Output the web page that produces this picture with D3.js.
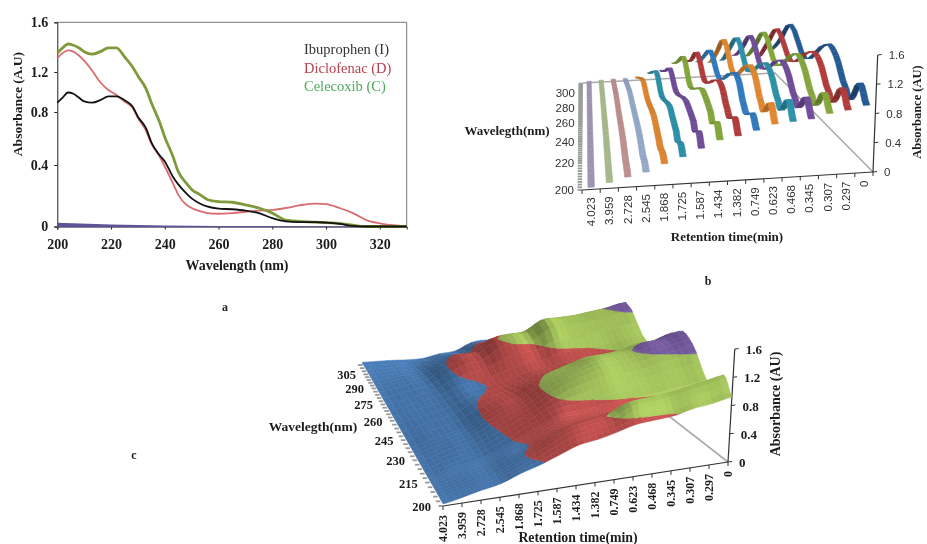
<!DOCTYPE html>
<html>
<head>
<meta charset="utf-8">
<script src="https://cdn.jsdelivr.net/npm/d3@7"></script>
<style>
  body { margin: 0; background: #fff; }
  svg { display: block; filter: blur(0.35px); }
  .serif { font-family: "Liberation Serif", serif; font-weight: bold; fill: #1c1c1c; }
  .sans { font-family: "Liberation Sans", sans-serif; fill: #333; }
</style>
</head>
<body>
<svg id="chart" width="927" height="544"></svg>
<script>
// panel a: spectra
var spectrumNm = [200, 202, 204, 206, 208, 210, 213, 216, 219, 222, 225, 228, 230, 233, 235, 238, 240, 243, 245, 248, 250, 253, 256, 260, 265, 270, 275, 280, 285, 290, 296, 300, 305, 310, 315, 320, 325, 330];
var ibuprophen = [0.97, 1.01, 1.05, 1.04, 1.01, 0.98, 0.97, 0.99, 1.02, 1.02, 0.99, 0.94, 0.86, 0.77, 0.66, 0.56, 0.51, 0.39, 0.33, 0.26, 0.22, 0.18, 0.155, 0.14, 0.135, 0.125, 0.105, 0.065, 0.04, 0.035, 0.035, 0.03, 0.02, 0.005, 0, 0, 0, 0];
var diclofenac = [1.32, 1.36, 1.38, 1.37, 1.34, 1.30, 1.22, 1.13, 1.07, 1.03, 0.98, 0.93, 0.85, 0.75, 0.65, 0.55, 0.47, 0.34, 0.25, 0.17, 0.145, 0.12, 0.105, 0.10, 0.105, 0.115, 0.125, 0.13, 0.145, 0.165, 0.18, 0.175, 0.145, 0.105, 0.05, 0.025, 0.01, 0];
var celecoxib = [1.36, 1.40, 1.43, 1.42, 1.40, 1.37, 1.35, 1.37, 1.40, 1.40, 1.33, 1.25, 1.18, 1.08, 0.97, 0.82, 0.70, 0.55, 0.43, 0.34, 0.29, 0.25, 0.21, 0.195, 0.19, 0.17, 0.145, 0.105, 0.05, 0.04, 0.035, 0.03, 0.025, 0.01, 0, 0, 0, 0];
var baselineNm = [200, 220, 240, 260, 330];
var baselineAbs = [0.03, 0.015, 0.008, 0.004, 0];
var legendLabels = ['Ibuprophen (I)', 'Diclofenac (D)', 'Celecoxib (C)'];
var absTicks = [0, 0.4, 0.8, 1.2, 1.6];
var nmTicks = [200, 220, 240, 260, 280, 300, 320];

// panels b and c share the retention time / wavelength table
var retentionTimes = ['4.023', '3.959', '2.728', '2.545', '1.868', '1.725', '1.587', '1.434', '1.382', '0.749', '0.623', '0.468', '0.345', '0.307', '0.297', '0'];
var gridNm = [200, 206, 213, 217, 228, 238, 262, 285, 300, 315];
var absByTime = [
  [0.03, 0.03, 0.03, 0.03, 0.03, 0.03, 0.03, 0.03, 0.03, 0.03],
  [0.08, 0.09, 0.09, 0.10, 0.10, 0.11, 0.09, 0.08, 0.06, 0.04],
  [0.14, 0.16, 0.15, 0.16, 0.18, 0.18, 0.15, 0.14, 0.09, 0.05],
  [0.19, 0.22, 0.20, 0.22, 0.25, 0.25, 0.22, 0.20, 0.12, 0.05],
  [0.29, 0.33, 0.30, 0.33, 0.38, 0.41, 0.33, 0.38, 0.24, 0.07],
  [0.37, 0.45, 0.38, 0.45, 0.50, 0.54, 0.37, 0.52, 0.35, 0.14],
  [0.47, 0.60, 0.50, 0.58, 0.62, 0.62, 0.43, 0.58, 0.35, 0.18],
  [0.57, 0.72, 0.60, 0.70, 0.78, 0.78, 0.50, 0.78, 0.53, 0.32],
  [0.61, 0.77, 0.66, 0.72, 0.92, 0.90, 0.58, 0.86, 0.53, 0.36],
  [0.67, 0.81, 0.70, 0.74, 1.02, 1.00, 0.62, 0.88, 0.59, 0.32],
  [0.74, 0.95, 0.72, 0.78, 1.08, 1.11, 0.68, 1.07, 0.65, 0.29],
  [0.76, 0.98, 0.73, 0.80, 1.09, 1.13, 0.72, 1.09, 0.71, 0.32],
  [0.78, 1.00, 0.75, 0.82, 1.12, 1.16, 0.75, 1.12, 0.71, 0.41],
  [0.84, 1.05, 0.77, 0.85, 1.18, 1.25, 0.79, 1.17, 0.73, 0.38],
  [0.87, 1.10, 0.80, 0.88, 1.23, 1.27, 0.85, 1.22, 0.77, 0.35],
  [0.92, 1.15, 0.82, 0.92, 1.30, 1.37, 0.88, 1.29, 0.83, 0.49]
];
var ribbonColors = ['#9c92b0', '#a5b78a', '#bb8d8d', '#92a6c6', '#d9822f', '#2b8ca3', '#6c4a94', '#7fa03a', '#ab3a3a', '#2f76b8', '#d9822f', '#2b8ca3', '#6c4a94', '#7fa03a', '#ab3a3a', '#24578f'];
var surfaceBands = [
  { lo: -1, hi: 0.4, color: '#4a7db8' },
  { lo: 0.4, hi: 0.8, color: '#c2504e' },
  { lo: 0.8, hi: 1.2, color: '#a4c45c' },
  { lo: 1.2, hi: 9, color: '#7b5ea6' }
];

var svg = d3.select('#chart');

// catmull-rom through a row of values, only to draw the rounded shapes
function spline(values, f) {
  var n = values.length, i = Math.min(Math.floor(f), n - 2), s = f - i;
  var p0 = values[Math.max(i - 1, 0)], p1 = values[i], p2 = values[i + 1], p3 = values[Math.min(i + 2, n - 1)];
  return 0.5 * (2 * p1 + (p2 - p0) * s + (2 * p0 - 5 * p1 + 4 * p2 - p3) * s * s + (3 * p1 - p0 - 3 * p2 + p3) * s * s * s);
}

function nmAt(f) {
  var i = Math.min(Math.floor(f), gridNm.length - 2);
  return gridNm[i] + (gridNm[i + 1] - gridNm[i]) * (f - i);
}

function drawPanelA() {
  var x = d3.scaleLinear().domain([200, 330]).range([57.3, 406.7]);
  var y = d3.scaleLinear().domain([0, 1.6]).range([226.5, 22.3]);
  // the printed axis is not evenly spaced in the source figure
  var yTicks = d3.scaleLinear().domain(absTicks).range([226.5, 165, 112, 72, 22.3]);
  var g = svg.append('g');

  g.append('path')
    .attr('d', 'M' + x(200) + ',' + y(1.6) + 'H' + x(330) + 'V' + y(0))
    .attr('fill', 'none').attr('stroke', '#777').attr('stroke-width', 1);

  var yAxis = g.append('g').attr('transform', 'translate(' + x(200) + ',0)')
    .call(d3.axisLeft(yTicks).tickValues(absTicks).tickSize(3).tickPadding(6).tickFormat(function(d) { return d === 0 ? '0' : d3.format('.1f')(d); }));
  var xAxis = g.append('g').attr('transform', 'translate(0,' + y(0) + ')')
    .call(d3.axisBottom(x).tickValues(nmTicks).tickSize(3).tickPadding(10));
  [yAxis, xAxis].forEach(function(a) {
    a.selectAll('text').attr('class', 'serif').style('font-size', '14px');
    a.selectAll('path,line').attr('stroke', '#222');
  });

  var line = d3.line().x(function(d, i) { return x(spectrumNm[i]); }).y(function(d) { return y(d); }).curve(d3.curveMonotoneX);
  var area = d3.area()
    .x(function(d, i) { return x(baselineNm[i]); })
    .y0(y(0) + 0.8)
    .y1(function(d) { return y(d); });

  g.append('path').datum(baselineAbs).attr('d', area).attr('fill', '#5f5398');

  g.selectAll('.spectrum')
    .data([
      { values: diclofenac, color: '#d96c6e', width: 1.8 },
      { values: celecoxib, color: '#7f9a3a', width: 2.8 },
      { values: ibuprophen, color: '#111', width: 1.8 }
    ])
    .join('path')
    .attr('class', 'spectrum')
    .attr('fill', 'none')
    .attr('stroke', function(d) { return d.color; })
    .attr('stroke-width', function(d) { return d.width; })
    .attr('d', function(d) { return line(d.values); });

  var legendColors = ['#333', '#b8414f', '#4ea85c'];
  g.selectAll('.legend')
    .data(legendLabels)
    .join('text')
    .attr('x', 304)
    .attr('y', function(d, i) { return 54 + i * 18.5; })
    .attr('fill', function(d, i) { return legendColors[i]; })
    .style('font-family', '"Liberation Serif", serif')
    .style('font-size', '14.5px')
    .text(function(d) { return d; });

  g.append('text').attr('class', 'serif')
    .attr('transform', 'translate(22,104) rotate(-90)')
    .attr('text-anchor', 'middle').style('font-size', '13.5px').text('Absorbance (A.U)');
  g.append('text').attr('class', 'serif')
    .attr('x', 237).attr('y', 270)
    .attr('text-anchor', 'middle').style('font-size', '14px').text('Wavelength (nm)');
  g.append('text').attr('class', 'serif')
    .attr('x', 225).attr('y', 311)
    .attr('text-anchor', 'middle').style('font-size', '12px').text('a');
}

function makeProjection(q) {
  var h = d3.scaleLinear().domain([0, 1.6]).range([0, q.height]);
  return function(u, t, z) {
    var xf = q.fl[0] + (q.fr[0] - q.fl[0]) * u, yf = q.fl[1] + (q.fr[1] - q.fl[1]) * u;
    var xb = q.bl[0] + (q.br[0] - q.bl[0]) * u, yb = q.bl[1] + (q.br[1] - q.bl[1]) * u;
    var px = h(z) * (1 - (1 - q.backRatio) * t);
    return [xf + (xb - xf) * t + px * q.lean, yf + (yb - yf) * t - px];
  };
}

function polyPath(points) {
  return 'M' + points.map(function(p) { return p[0].toFixed(2) + ',' + p[1].toFixed(2); }).join('L') + 'Z';
}

function drawFrame(g, q, project, depth) {
  // floor edges behind the data, then the gray depth ticks
  g.append('path')
    .attr('d', 'M' + q.bl + 'L' + q.br + 'L' + q.fr)
    .attr('fill', 'none').attr('stroke', '#aaa').attr('stroke-width', 1.6);
  g.append('path').attr('d', 'M' + q.fl + 'L' + q.fr).attr('stroke', '#333').attr('stroke-width', 1.2);

  var top = project(1, 0, 1.6);
  g.append('path').attr('d', 'M' + q.fr + 'L' + top).attr('stroke', '#333').attr('stroke-width', 1.2);

  g.selectAll('.absTick')
    .data(absTicks)
    .join('line')
    .attr('x1', function(d) { return project(1, 0, d)[0]; })
    .attr('y1', function(d) { return project(1, 0, d)[1]; })
    .attr('x2', function(d) { return project(1, 0, d)[0] + 4; })
    .attr('y2', function(d) { return project(1, 0, d)[1] - 0.5; })
    .attr('stroke', '#333');

  g.selectAll('.depthTick')
    .data(d3.range(200, 316, q.depthStep))
    .join('line')
    .attr('x1', function(d) { return project(0, depth(d), 0)[0]; })
    .attr('y1', function(d) { return project(0, depth(d), 0)[1]; })
    .attr('x2', function(d) { return project(0, depth(d), 0)[0] - 4.5; })
    .attr('y2', function(d) { return project(0, depth(d), 0)[1]; })
    .attr('stroke', '#999').attr('stroke-width', 1.8);
}

function drawPanelB() {
  var q = { fl: [582, 190], fr: [873, 172], bl: [583, 83], br: [775, 73], height: 117, backRatio: 0.66, lean: 0.04, depthStep: 2 };
  var project = makeProjection(q);
  var depth = d3.scaleLinear().domain([200, 220, 240, 260, 280, 300, 315]).range([0, 0.252, 0.449, 0.626, 0.766, 0.907, 1]);
  var band = d3.scaleBand().domain(retentionTimes).range([0, 1]).paddingInner(0.64).paddingOuter(0.32);
  var tick = d3.scaleLinear().domain([0, retentionTimes.length]).range([0, 1]);
  var g = svg.append('g');
  var step = 0.25;

  drawFrame(g, q, project, depth);

  var quads = [];
  for (var i = retentionTimes.length - 1; i >= 0; i--) {
    var u0 = band(retentionTimes[i]), u1 = u0 + band.bandwidth();
    for (var f = gridNm.length - 1; f >= step; f -= step) {
      var z0 = spline(absByTime[i], f), z1 = spline(absByTime[i], f - step);
      var t0 = depth(nmAt(f)), t1 = depth(nmAt(f - step));
      var slope = Math.abs(z0 - z1) / (t0 - t1);
      var c = d3.color(ribbonColors[i]);
      quads.push({
        points: [project(u0, t0, z0), project(u1, t0, z0), project(u1, t1, z1), project(u0, t1, z1)],
        color: (z1 > z0 ? c.darker(Math.min(slope * 0.2, 1.1)) : c.brighter(Math.min(slope * 0.03, 0.25))).formatHex()
      });
    }
  }
  g.selectAll('.ribbon')
    .data(quads)
    .join('path')
    .attr('d', function(d) { return polyPath(d.points); })
    .attr('fill', function(d) { return d.color; })
    .attr('stroke', function(d) { return d.color; })
    .attr('stroke-width', 0.5);

  g.selectAll('.timeTick')
    .data(d3.range(retentionTimes.length + 1))
    .join('line')
    .attr('x1', function(d) { return project(tick(d), 0, 0)[0]; })
    .attr('y1', function(d) { return project(tick(d), 0, 0)[1]; })
    .attr('x2', function(d) { return project(tick(d), 0, 0)[0]; })
    .attr('y2', function(d) { return project(tick(d), 0, 0)[1] + 4; })
    .attr('stroke', '#333');

  g.selectAll('.timeLabel')
    .data(retentionTimes)
    .join('text')
    .attr('class', 'sans')
    .attr('text-anchor', 'end')
    .attr('dy', '0.35em')
    .style('font-size', '11.5px')
    .attr('transform', function(d) {
      var p = project(band(d) + band.bandwidth() / 2, 0, 0);
      return 'translate(' + p[0] + ',' + (p[1] + 8) + ') rotate(-90)';
    })
    .text(function(d) { return d; });

  g.selectAll('.depthLabel')
    .data([200, 220, 240, 260, 280, 300])
    .join('text')
    .attr('class', 'sans')
    .attr('text-anchor', 'end')
    .style('font-size', '11.5px')
    .attr('x', function(d) { return project(0, depth(d), 0)[0] - 8; })
    .attr('y', function(d) { return project(0, depth(d), 0)[1] + 4; })
    .text(function(d) { return d; });

  g.selectAll('.absLabel')
    .data(absTicks)
    .join('text')
    .attr('class', 'sans')
    .style('font-size', '11.5px')
    .attr('x', function(d) { return project(1, 0, d)[0] + 11; })
    .attr('y', function(d) { return project(1, 0, d)[1] + 4; })
    .text(function(d) { return d === 0 ? '0' : d3.format('.1f')(d); });

  g.append('text').attr('class', 'serif').attr('x', 507).attr('y', 135)
    .attr('text-anchor', 'middle').style('font-size', '13px').text('Wavelegth(nm)');
  g.append('text').attr('class', 'serif').attr('x', 727).attr('y', 241)
    .attr('text-anchor', 'middle').style('font-size', '13px').text('Retention time(min)');
  g.append('text').attr('class', 'serif')
    .attr('transform', 'translate(921,112) rotate(-90)')
    .attr('text-anchor', 'middle').style('font-size', '12.5px').text('Absorbance (AU)');
  g.append('text').attr('class', 'serif').attr('x', 708).attr('y', 285)
    .attr('text-anchor', 'middle').style('font-size', '12px').text('b');
}

function clipBand(poly, lo, hi) {
  function clip(points, inside, level) {
    var out = [];
    points.forEach(function(p, n) {
      var q = points[(n + 1) % points.length];
      if (inside(p)) out.push(p);
      if (inside(p) !== inside(q)) {
        var f = (level - p.z) / (q.z - p.z);
        out.push({ u: p.u + (q.u - p.u) * f, t: p.t + (q.t - p.t) * f, z: level });
      }
    });
    return out;
  }
  var a = clip(poly, function(p) { return p.z >= lo; }, lo);
  return a.length ? clip(a, function(p) { return p.z <= hi; }, hi) : a;
}

function drawPanelC() {
  var q = { fl: [443, 506], fr: [728, 462], bl: [362, 364], br: [593, 357], height: 113, backRatio: 0.8, lean: 0.06, depthStep: 3 };
  var project = makeProjection(q);
  var depth = d3.scaleLinear().domain([200, 215, 230, 245, 260, 275, 290, 305, 315]).range([0, 0.165, 0.322, 0.464, 0.6, 0.715, 0.828, 0.927, 1]);
  var point = d3.scalePoint().domain(retentionTimes).range([0, 1]);
  var g = svg.append('g');
  var subTime = 3, subNm = 4;

  drawFrame(g, q, project, depth);

  function vertex(a, b) {
    var column = gridNm.map(function(nm, j) {
      return spline(absByTime.map(function(row) { return row[j]; }), a / subTime);
    });
    return { u: a / subTime / (retentionTimes.length - 1), t: depth(nmAt(b / subNm)), z: spline(column, b / subNm) };
  }

  var facets = [];
  for (var j = (gridNm.length - 1) * subNm - 1; j >= 0; j--) {
    for (var i = (retentionTimes.length - 1) * subTime - 1; i >= 0; i--) {
      var a = vertex(i, j), b = vertex(i + 1, j), c = vertex(i + 1, j + 1), d = vertex(i, j + 1);
      var dzu = ((b.z - a.z) + (c.z - d.z)) / 2 / (b.u - a.u);
      var dzt = ((d.z - a.z) + (c.z - b.z)) / 2 / (d.t - a.t);
      var shade = Math.max(-1.1, Math.min(0.4, -dzu * 0.38 + dzt * 0.05 + 0.08));
      surfaceBands.forEach(function(band) {
        var clipped = clipBand([d, c, b, a], band.lo, band.hi);
        if (clipped.length < 3) return;
        var base = d3.color(band.color);
        facets.push({
          points: clipped.map(function(p) { return project(p.u, p.t, p.z); }),
          color: (shade > 0 ? base.brighter(shade) : base.darker(-shade)).formatHex()
        });
      });
    }
  }

  g.selectAll('.facet')
    .data(facets)
    .join('path')
    .attr('d', function(f) { return polyPath(f.points); })
    .attr('fill', function(f) { return f.color; })
    .attr('stroke', function(f) { return f.color; })
    .attr('stroke-width', 0.5);

  g.selectAll('.timeTick')
    .data(retentionTimes)
    .join('line')
    .attr('x1', function(d) { return project(point(d), 0, 0)[0]; })
    .attr('y1', function(d) { return project(point(d), 0, 0)[1]; })
    .attr('x2', function(d) { return project(point(d), 0, 0)[0]; })
    .attr('y2', function(d) { return project(point(d), 0, 0)[1] + 4; })
    .attr('stroke', '#333');

  g.selectAll('.timeLabel')
    .data(retentionTimes)
    .join('text')
    .attr('class', 'serif')
    .attr('text-anchor', 'end')
    .attr('dy', '0.35em')
    .style('font-size', '12px')
    .attr('transform', function(d) {
      var p = project(point(d), 0, 0);
      return 'translate(' + p[0] + ',' + (p[1] + 9) + ') rotate(-90)';
    })
    .text(function(d) { return d; });

  g.selectAll('.depthLabel')
    .data([200, 215, 230, 245, 260, 275, 290, 305])
    .join('text')
    .attr('class', 'serif')
    .attr('text-anchor', 'end')
    .style('font-size', '12.5px')
    .attr('x', function(d) { return project(0, depth(d), 0)[0] - 12; })
    .attr('y', function(d) { return project(0, depth(d), 0)[1] + 5; })
    .text(function(d) { return d; });

  g.selectAll('.absLabel')
    .data(absTicks)
    .join('text')
    .attr('class', 'serif')
    .style('font-size', '13px')
    .attr('x', function(d) { return project(1, 0, d)[0] + 11; })
    .attr('y', function(d) { return project(1, 0, d)[1] + 5; })
    .text(function(d) { return d === 0 ? '0' : d3.format('.1f')(d); });

  g.append('text').attr('class', 'serif').attr('x', 313).attr('y', 431)
    .attr('text-anchor', 'middle').style('font-size', '13.5px').text('Wavelegth(nm)');
  g.append('text').attr('class', 'serif').attr('x', 578).attr('y', 542)
    .attr('text-anchor', 'middle').style('font-size', '13.8px').text('Retention time(min)');
  g.append('text').attr('class', 'serif')
    .attr('transform', 'translate(780,404) rotate(-90)')
    .attr('text-anchor', 'middle').style('font-size', '14px').text('Absorbance (AU)');
  g.append('text').attr('class', 'serif').attr('x', 134).attr('y', 459)
    .attr('text-anchor', 'middle').style('font-size', '12px').text('c');
}

drawPanelA();
drawPanelB();
drawPanelC();
</script>
</body>
</html>
